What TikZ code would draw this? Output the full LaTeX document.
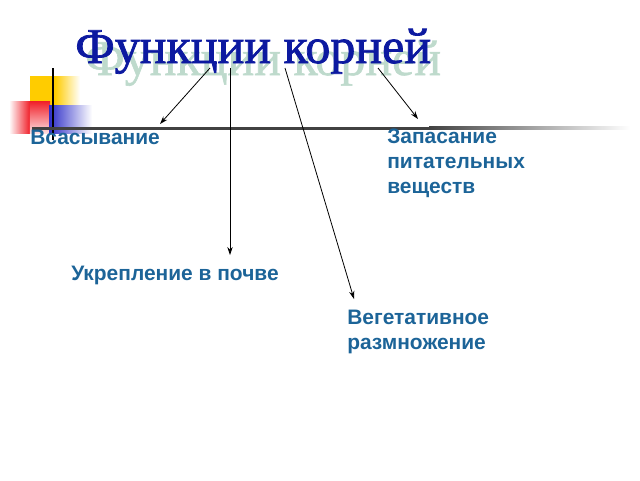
\documentclass[tikz,border=0pt]{standalone}
\usepackage{fontspec}
\setmainfont{Liberation Sans}
\newfontfamily\titlefont[FakeBold=1.5]{Liberation Serif}
\newfontfamily\shadowfont[FakeBold=1.2]{Liberation Serif}
\usetikzlibrary{arrows.meta}
\definecolor{lblblue}{RGB}{28,100,152}
\definecolor{ttlblue}{RGB}{12,25,160}
\definecolor{ttlshadow}{RGB}{190,218,204}
\definecolor{linegray}{RGB}{65,65,65}
\definecolor{sqyellow}{RGB}{255,204,0}
\definecolor{sqred}{RGB}{240,30,40}
\definecolor{sqblue}{RGB}{45,45,200}
\tikzset{
  lbl/.style={anchor=base west, inner sep=0pt, text=lblblue, font=\fontsize{15.7}{18.75}\selectfont\bfseries, align=left},
  ttl/.style={anchor=base west, inner sep=0pt, font=\fontsize{37.5}{40}\selectfont},
  arr/.style={-{Stealth[length=6pt,width=4pt]}, line width=0.6pt, black},
}
\begin{document}
\begin{tikzpicture}[x=0.75pt,y=-0.75pt]
\useasboundingbox (0,0) rectangle (640,480);
% decorative squares
\shade[left color=sqyellow, right color=white] (55,76) rectangle (80,106);
\fill[sqyellow] (30,76) rectangle (55.2,106);
\shade[left color=white, right color=sqred] (9,101) rectangle (30,133);
\shade[top color=sqred, bottom color=sqred!15] (29.8,101) rectangle (50,133);
\shade[left color=sqblue, right color=white] (49,105) rectangle (92,133);
% lines
\draw[line width=2pt, black] (53,68) -- (53,140);
\fill[linegray] (32,126.8) rectangle (430,129.6);
\shade[left color=linegray, right color=white] (429,126.8) rectangle (630,129.6);
% title
\node[ttl, text=ttlshadow, font=\fontsize{37.5}{40}\selectfont\shadowfont] (shadow) at (85,75) {Функции корней};
\node[ttl, text=ttlblue, font=\fontsize{37.5}{40}\selectfont\titlefont] (title) at (75,63) {Функции корней};
% labels
\node[lbl] (vs) at (30,144) {Всасывание};
\node[lbl] (zap) at (387,193) {Запасание\\питательных\\веществ};
\node[lbl] (ukr) at (71,280) {Укрепление в почве};
\node[lbl] (veg) at (347,349) {Вегетативное\\размножение};
% arrow coordinates
\coordinate (s1) at (210,68); \coordinate (e1) at (160,124);
\coordinate (s2) at (230,68); \coordinate (e2) at (230,255);
\coordinate (s3) at (285,68); \coordinate (e3) at (354,299);
\coordinate (s4) at (378,68); \coordinate (e4) at (418,119);
\draw[arr] (s1) -- (e1);
\draw[arr] (s2) -- (e2);
\draw[arr] (s3) -- (e3);
\draw[arr] (s4) -- (e4);
\end{tikzpicture}
\end{document}
